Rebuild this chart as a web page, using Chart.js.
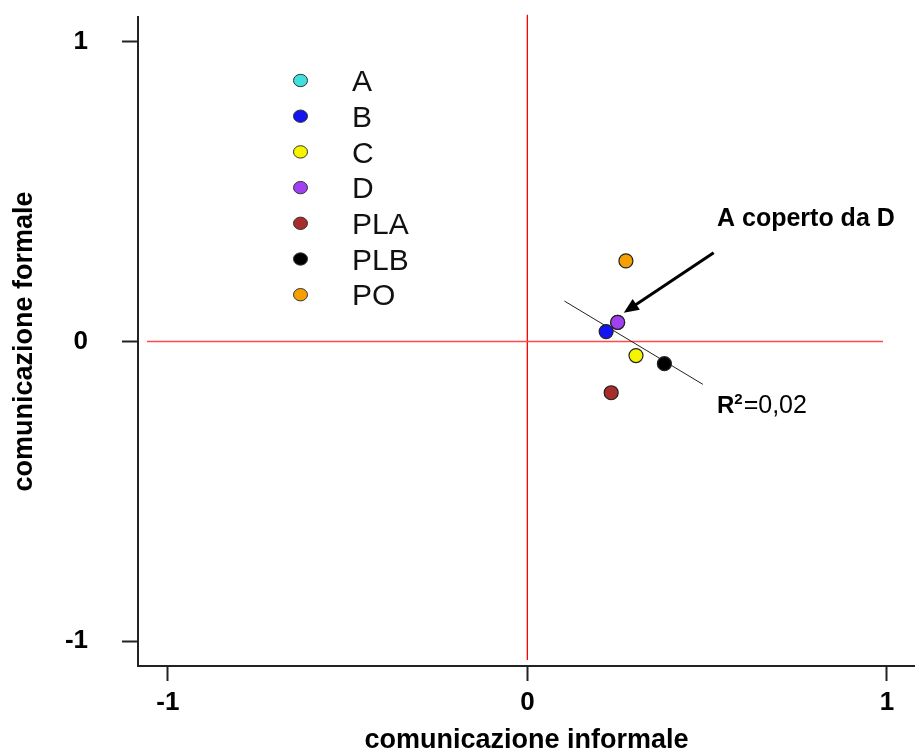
<!DOCTYPE html>
<html>
<head>
<meta charset="utf-8">
<script src="https://cdn.jsdelivr.net/npm/chart.js@4/dist/chart.umd.min.js"></script>
<style>
  html, body { margin: 0; padding: 0; background: #fff; }
  canvas { display: block; }
</style>
</head>
<body>
<canvas id="chart" width="915" height="754"></canvas>
<script>
// Groups and their coordinates (informal vs formal communication)
const groups = ['A', 'B', 'C', 'D', 'PLA', 'PLB', 'PO'];
const informale = [0.251, 0.219, 0.302, 0.251, 0.233, 0.381, 0.274];
const formale = [0.064, 0.033, -0.047, 0.064, -0.171, -0.074, 0.269];
const groupColors = ['#3ee0e0', '#1414f0', '#f5f500', '#a040f0', '#a82c2c', '#000000', '#f5a000'];

// Axis ticks
const axisTicks = [-1, 0, 1];

// Linear trend through the points
const trendX = [0.103, 0.488];
const trendY = [0.135, -0.143];
const r2Value = '0,02';

// Quadrant cross lines (extent in data units)
const crossHx = [-1.058, 0.989];
const crossVy = [1.09, -1.063];

// Callout arrow: from the label towards the overlapping point
const arrowFrom = [0.518, 0.296];
const arrowTo = [0.268, 0.096];
const calloutText = 'A coperto da D';

const FONT = '"Liberation Sans", Arial, sans-serif';

const pointSets = groups.map((g, i) => ({
  label: g,
  data: [{ x: informale[i], y: formale[i] }],
  backgroundColor: groupColors[i],
  borderColor: '#222',
  borderWidth: 1.2,
  pointRadius: 7,
  pointHoverRadius: 7,
  order: -i
}));

const lineSets = [
  {
    label: 'asse orizzontale',
    data: [{ x: crossHx[0], y: 0 }, { x: crossHx[1], y: 0 }],
    showLine: true, borderColor: '#ff4a4a', borderWidth: 1.6, pointRadius: 0, order: 20
  },
  {
    label: 'asse verticale',
    data: [{ x: 0, y: crossVy[0] }, { x: 0, y: crossVy[1] }],
    showLine: true, borderColor: '#ff0000', borderWidth: 1, pointRadius: 0, order: 20, clip: false
  },
  {
    label: 'tendenza',
    data: trendX.map((v, i) => ({ x: v, y: trendY[i] })),
    showLine: true, borderColor: '#222', borderWidth: 1, pointRadius: 0, order: 15
  }
];

// Vertical legend drawn inside the plot area
const groupLegend = {
  id: 'groupLegend',
  afterDraw(chart) {
    const ctx = chart.ctx;
    ctx.save();
    ctx.font = '30px ' + FONT;
    ctx.textAlign = 'left';
    ctx.textBaseline = 'alphabetic';
    groups.forEach((g, i) => {
      const cy = 80.5 + i * 35.7;
      ctx.beginPath();
      ctx.ellipse(300.5, cy, 7, 6.2, 0, 0, Math.PI * 2);
      ctx.fillStyle = groupColors[i];
      ctx.fill();
      ctx.lineWidth = 1;
      ctx.strokeStyle = '#333';
      ctx.stroke();
      ctx.fillStyle = '#111';
      ctx.fillText(g, 352, cy + 10.7);
    });
    ctx.restore();
  }
};

// Callout arrow and text labels
const callouts = {
  id: 'callouts',
  afterDatasetsDraw(chart) {
    const { ctx, scales: { x, y } } = chart;
    ctx.save();
    const x1 = x.getPixelForValue(arrowFrom[0]);
    const y1 = y.getPixelForValue(arrowFrom[1]);
    const x2 = x.getPixelForValue(arrowTo[0]);
    const y2 = y.getPixelForValue(arrowTo[1]);
    const ang = Math.atan2(y2 - y1, x2 - x1);
    const headLen = 15, headHalf = 6.5;
    const bx = x2 - Math.cos(ang) * headLen;
    const by = y2 - Math.sin(ang) * headLen;
    ctx.strokeStyle = '#000';
    ctx.lineWidth = 3;
    ctx.beginPath();
    ctx.moveTo(x1, y1);
    ctx.lineTo(bx + Math.cos(ang) * 2, by + Math.sin(ang) * 2);
    ctx.stroke();
    ctx.fillStyle = '#000';
    ctx.beginPath();
    ctx.moveTo(x2, y2);
    ctx.lineTo(bx - Math.sin(ang) * headHalf, by + Math.cos(ang) * headHalf);
    ctx.lineTo(bx + Math.sin(ang) * headHalf, by - Math.cos(ang) * headHalf);
    ctx.closePath();
    ctx.fill();

    // callout text
    ctx.textAlign = 'left';
    ctx.textBaseline = 'alphabetic';
    ctx.font = 'bold 25px ' + FONT;
    ctx.fillText(calloutText, 717, 226);

    // R² label
    let tx = 717;
    const ty = 413;
    ctx.font = 'bold 24px ' + FONT;
    ctx.fillText('R', tx, ty);
    tx += ctx.measureText('R').width;
    ctx.font = 'bold 15px ' + FONT;
    ctx.fillText('2', tx, ty - 9);
    tx += ctx.measureText('2').width + 1;
    ctx.font = '25px ' + FONT;
    ctx.fillText('=' + r2Value, tx, ty);
    ctx.restore();
  }
};

const tickFont = { family: FONT, size: 26, weight: 'bold' };
const titleFont = { family: FONT, size: 27, weight: 'bold', lineHeight: 1 };

new Chart(document.getElementById('chart'), {
  type: 'scatter',
  data: { datasets: [...lineSets, ...pointSets] },
  options: {
    responsive: false,
    devicePixelRatio: 1,
    animation: false,
    events: [],
    layout: { autoPadding: false, padding: { top: 17, right: 0, left: 0, bottom: 0 } },
    plugins: { legend: { display: false }, tooltip: { enabled: false } },
    scales: {
      x: {
        type: 'linear',
        min: -1.083,
        max: 1.078,
        afterBuildTicks: s => { s.ticks = axisTicks.map(v => ({ value: v })); },
        afterFit: s => { s.height = 88; s.paddingLeft = 0; s.paddingRight = 0; },
        grid: { display: true, drawOnChartArea: false, drawTicks: true, tickLength: 15, tickColor: '#222', tickWidth: 2 },
        border: { display: true, color: '#222', width: 2 },
        ticks: { color: '#000', font: tickFont, padding: 6, maxRotation: 0, callback: v => String(v) },
        title: { display: true, text: 'comunicazione informale', color: '#000', font: titleFont, padding: { top: 0, bottom: 0 } }
      },
      y: {
        type: 'linear',
        min: -1.083,
        max: 1.083,
        afterBuildTicks: s => { s.ticks = axisTicks.map(v => ({ value: v })); },
        afterFit: s => { s.width = 138; s.paddingTop = 0; s.paddingBottom = 0; },
        grid: { display: true, drawOnChartArea: false, drawTicks: true, tickLength: 16, tickColor: '#222', tickWidth: 2 },
        border: { display: true, color: '#222', width: 2 },
        ticks: { color: '#000', font: tickFont, padding: 34, callback: v => String(v) },
        title: { display: true, text: 'comunicazione formale', color: '#000', font: titleFont, padding: { top: 11, bottom: 11 } }
      }
    }
  },
  plugins: [groupLegend, callouts]
});
</script>
</body>
</html>
